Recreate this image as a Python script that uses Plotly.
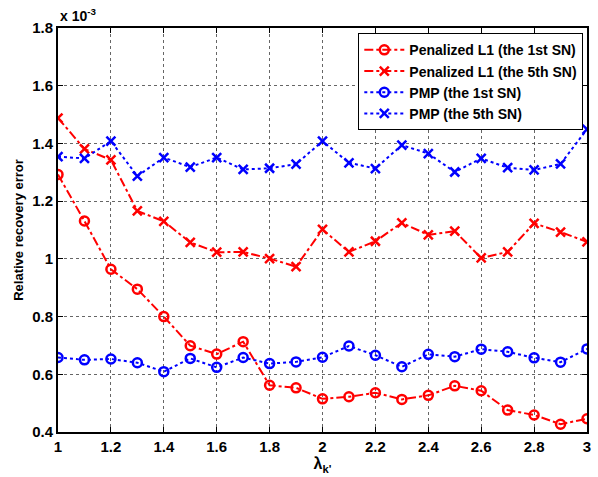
import plotly.graph_objects as go

lam = [1.0, 1.1, 1.2, 1.3, 1.4, 1.5, 1.6, 1.7, 1.8, 1.9, 2.0,
       2.1, 2.2, 2.3, 2.4, 2.5, 2.6, 2.7, 2.8, 2.9, 3.0]

# values in units of 1e-3
pen_1st = [1.292, 1.131, 0.964, 0.895, 0.800, 0.699, 0.670, 0.713, 0.562, 0.553, 0.515,
           0.522, 0.536, 0.513, 0.527, 0.560, 0.543, 0.476, 0.459, 0.427, 0.446]
pen_5th = [1.488, 1.381, 1.343, 1.166, 1.130, 1.057, 1.023, 1.024, 1.001, 0.973, 1.102,
           1.024, 1.061, 1.125, 1.083, 1.096, 1.003, 1.024, 1.123, 1.093, 1.059]
pmp_1st = [0.658, 0.650, 0.653, 0.640, 0.609, 0.655, 0.624, 0.658, 0.637, 0.643, 0.659,
           0.698, 0.666, 0.626, 0.669, 0.661, 0.687, 0.678, 0.657, 0.642, 0.688]
pmp_5th = [1.354, 1.348, 1.408, 1.287, 1.351, 1.318, 1.351, 1.310, 1.314, 1.328, 1.408,
           1.333, 1.313, 1.394, 1.365, 1.301, 1.348, 1.316, 1.308, 1.329, 1.449]

x_ticks = [1, 1.2, 1.4, 1.6, 1.8, 2, 2.2, 2.4, 2.6, 2.8, 3]
x_tick_text = ["1", "1.2", "1.4", "1.6", "1.8", "2", "2.2", "2.4", "2.6", "2.8", "3"]
y_ticks = [0.4, 0.6, 0.8, 1.0, 1.2, 1.4, 1.6, 1.8]
y_tick_text = ["0.4", "0.6", "0.8", "1", "1.2", "1.4", "1.6", "1.8"]

FONT = "Liberation Sans, Arial, sans-serif"

fig = go.Figure()
series = [
    ("Penalized L1 (the 1st SN)", pen_1st, "red", "dashdot", "circle-open"),
    ("Penalized L1 (the 5th SN)", pen_5th, "red", "dashdot", "x-thin-open"),
    ("PMP (the 1st SN)", pmp_1st, "blue", "dot", "circle-open"),
    ("PMP (the 5th SN)", pmp_5th, "blue", "dot", "x-thin-open"),
]
for name, ys, col, dash, sym in series:
    fig.add_trace(go.Scatter(
        x=lam, y=ys, name=name, mode="lines+markers",
        line=dict(color=col, width=2, dash=dash),
        marker=dict(symbol=sym, size=9, color=col, line=dict(color=col, width=2.5)),
    ))

axis_common = dict(
    showline=True, linecolor="black", linewidth=2, mirror="ticks",
    ticks="inside", ticklen=5, tickcolor="black", tickwidth=1,
    showgrid=True, gridcolor="rgba(0,0,0,0.6)", griddash="dot", gridwidth=1,
    zeroline=False,
    tickfont=dict(family=FONT, size=15, color="black", weight="bold"),
)

fig.update_layout(
    width=598, height=477,
    margin=dict(l=58, r=7, t=28, b=45),
    paper_bgcolor="white", plot_bgcolor="white",
    font=dict(family=FONT, color="black"),
    xaxis=dict(range=[1, 3], tickvals=x_ticks, ticktext=x_tick_text,
               title=dict(text="λ<sub>k'</sub>", font=dict(family=FONT, size=16, weight="bold"),
                          standoff=4),
               **axis_common),
    yaxis=dict(range=[0.4, 1.8], tickvals=y_ticks, ticktext=y_tick_text,
               title=dict(text="Relative recovery error", font=dict(family=FONT, size=13, weight="bold"),
                          standoff=6),
               **axis_common),
    legend=dict(
        x=0.993, y=0.987, xanchor="right", yanchor="top",
        bgcolor="white", bordercolor="black", borderwidth=1,
        font=dict(family=FONT, size=14, color="black", weight="bold"),
        itemwidth=40, tracegroupgap=0,
    ),
    showlegend=True,
)

fig.add_annotation(
    x=0, y=1, xref="paper", yref="paper", xanchor="left", yanchor="bottom",
    text="x 10<sup>-3</sup>", showarrow=False, yshift=2,
    font=dict(family=FONT, size=14, color="black", weight="bold"),
)

fig.write_html("out.html")
